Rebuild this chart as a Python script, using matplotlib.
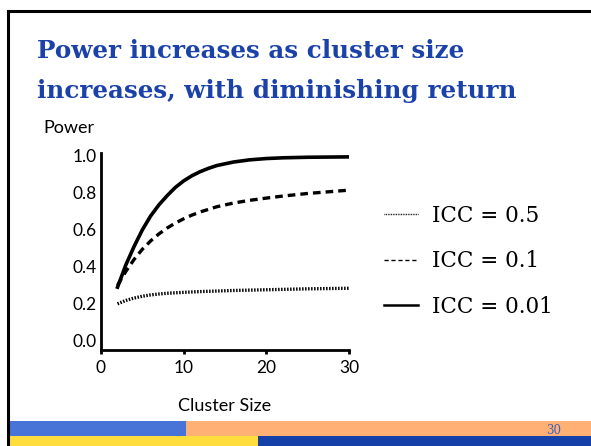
import matplotlib
matplotlib.use('Agg')
import matplotlib.pyplot as plt
from matplotlib.lines import Line2D
from matplotlib.patches import Rectangle

# values
size_001 = [2, 3, 4, 5, 6, 7, 8, 9, 10, 11, 12, 13, 14, 16, 18, 20, 22, 25, 30]
power_icc_001 = [0.29, 0.41, 0.51, 0.60, 0.675, 0.735, 0.785, 0.83, 0.865, 0.893, 0.915, 0.933,
                 0.948, 0.967, 0.979, 0.986, 0.99, 0.993, 0.995]
size_01 = [2, 3, 4, 5, 6, 7, 8, 9, 10, 11, 12, 14, 16, 18, 20, 22, 25, 30]
power_icc_01 = [0.30, 0.375, 0.44, 0.495, 0.54, 0.578, 0.61, 0.637, 0.66, 0.68, 0.697, 0.725,
                0.745, 0.76, 0.772, 0.783, 0.797, 0.815]
size_05 = [2, 3, 4, 5, 6, 7, 8, 10, 12, 14, 16, 18, 20, 22, 25, 30]
power_icc_05 = [0.20, 0.218, 0.231, 0.241, 0.248, 0.253, 0.257, 0.262, 0.266, 0.269, 0.272,
                0.274, 0.276, 0.278, 0.281, 0.284]

legend_labels = ['ICC = 0.5', 'ICC = 0.1', 'ICC = 0.01']
title_lines = ['Power increases as cluster size', 'increases, with diminishing return']
x_ticks = [0, 10, 20, 30]
y_ticks = [0.0, 0.2, 0.4, 0.6, 0.8, 1.0]

W, H = 591, 446
title_blue = '#1b42a8'


def fx(px):
    return px / W


def fy(py):
    return 1 - py / H


fig = plt.figure(figsize=(W / 100, H / 100), dpi=100)
fig.patch.set_facecolor('white')

# slide frame and footer bars
fig.add_artist(Line2D([fx(7.5), fx(7.5)], [0, fy(11)], color='black', lw=2.2))
fig.add_artist(Line2D([fx(7.5), 1], [fy(11), fy(11)], color='black', lw=2.2))
fig.add_artist(Rectangle((fx(9), fy(436)), fx(186) - fx(9), fy(421) - fy(436), color='#4774d6', lw=0))
fig.add_artist(Rectangle((fx(186), fy(436)), 1 - fx(186), fy(421) - fy(436), color='#ffb074', lw=0))
fig.add_artist(Rectangle((fx(9), 0), fx(258) - fx(9), fy(436), color='#ffdd3c', lw=0))
fig.add_artist(Rectangle((fx(258), 0), 1 - fx(258), fy(436), color='#1540a8', lw=0))
fig.text(fx(554), fy(430), '30', color='#4262b8', fontsize=8.5, family='DejaVu Serif',
         ha='center', va='center')

# title
fig.text(fx(37), fy(58), title_lines[0], color=title_blue, fontsize=17.7, fontweight='bold',
         family='DejaVu Serif', va='baseline')
fig.text(fx(37), fy(98), title_lines[1], color=title_blue, fontsize=17.7, fontweight='bold',
         family='DejaVu Serif', va='baseline')

# chart
ax = fig.add_axes([fx(101), fy(350), fx(349) - fx(101), fy(153) - fy(350)])
ax.plot(size_05, power_icc_05, color='black', lw=2.4, linestyle=(0, (0.45, 0.45)))
ax.plot(size_01, power_icc_01, color='black', lw=2.4, linestyle=(0, (2.3, 1.5)))
ax.plot(size_001, power_icc_001, color='black', lw=2.6)

ax.set_xlim(0, 30)
ax.set_ylim(-0.05, 1.016)
ax.set_xticks(x_ticks)
ax.set_yticks(y_ticks)
ax.set_yticklabels([f'{v:.1f}' for v in y_ticks])
for s in ['top', 'right']:
    ax.spines[s].set_visible(False)
for s in ['left', 'bottom']:
    ax.spines[s].set_linewidth(2)
ax.tick_params(axis='x', length=3, width=2, labelsize=12.5, pad=4)
ax.tick_params(axis='y', length=0, labelsize=12.5, pad=3)
for lab in ax.get_xticklabels() + ax.get_yticklabels():
    lab.set_family('Lato')

fig.text(fx(43), fy(128), 'Power', fontsize=13, family='Lato', va='center')
fig.text(fx(225), fy(406), 'Cluster Size', fontsize=13, family='Lato', va='center', ha='center')

# legend
handles = [Line2D([], [], color='black', lw=1.0, linestyle=(0, (0.6, 0.6))),
           Line2D([], [], color='black', lw=1.0, linestyle=(0, (3, 2))),
           Line2D([], [], color='black', lw=1.8)]
fig.legend(handles, legend_labels, loc='upper left', bbox_to_anchor=(fx(375), fy(196)),
           frameon=False, prop={'family': 'DejaVu Serif', 'size': 15.5},
           handlelength=1.6, handletextpad=0.65, labelspacing=1.1, borderaxespad=0)

fig.savefig('out.png', dpi=100)
